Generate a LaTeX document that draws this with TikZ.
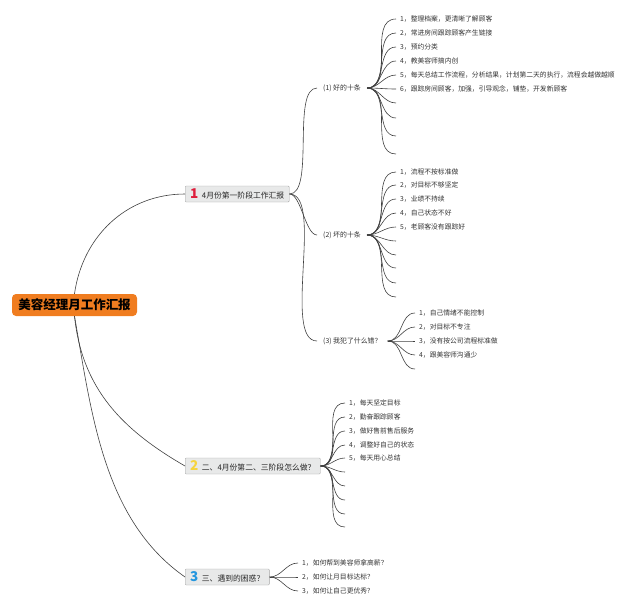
\documentclass[tikz,border=0pt]{standalone}
\usepackage{fontspec}
\setmainfont{Noto Sans CJK SC}

\definecolor{rootorange}{RGB}{240,125,32}
\definecolor{boxgray}{RGB}{232,233,233}
\definecolor{numred}{RGB}{222,30,60}
\definecolor{numyellow}{RGB}{246,212,62}
\definecolor{numblue}{RGB}{36,150,222}
\newcommand{\bignum}[2]{\textcolor{#1}{\fontsize{13.5}{14}\selectfont\bfseries #2}\hspace{3.5pt}}

\begin{document}
\begin{tikzpicture}[x=1pt, y=-1pt,
  root/.style={fill=rootorange, rounded corners=4pt, minimum width=125pt, minimum height=22pt,
    inner sep=2pt, font=\fontsize{12.5}{13}\selectfont\bfseries, text=black},
  topic/.style={draw=black!35, fill=boxgray, rounded corners=1pt, minimum height=16pt,
    inner xsep=5pt, inner ysep=0pt, anchor=west, font=\fontsize{7.8}{8}\selectfont, text=black!85},
  sub/.style={anchor=west, inner xsep=6pt, inner ysep=1pt, font=\fontsize{6.9}{7}\selectfont, text=black!80},
  leaf/.style={anchor=west, inner sep=1pt, font=\fontsize{6.8}{7.5}\selectfont, text=black!80},
  link/.style={draw=black!75, line width=0.6pt},
  fan/.style={link, out=0, in=180}]
\useasboundingbox (0,0) rectangle (640,611);

% Central topic and main branches
\node[root] (root) at (74.5,305) {美容经理月工作汇报};
\node[topic] (stage1) at (185,194) {\bignum{numred}{1}4月份第一阶段工作汇报};
\node[topic] (stage2) at (185,466) {\bignum{numyellow}{2}二、4月份第二、三阶段怎么做？};
\node[topic] (stage3) at (185,577) {\bignum{numblue}{3}三、遇到的困惑？};

\draw[link] (root.north) to[out=82, in=180] (stage1.west);
\draw[link] (root.south) to[out=-84, in=150] (stage2.west);
\draw[link] (root.south) to[out=-80, in=145, looseness=0.9] (stage3.west);

% Sub-topics of stage 1
\node[sub] (good) at (317,88) {(1)\ 好的十条};
\node[sub] (bad) at (317,235) {(2)\ 坏的十条};
\node[sub] (mistake) at (317,341) {(3)\ 我犯了什么错？};
\foreach \s in {good, bad, mistake}
  \draw[link] (stage1.east) to[out=0, in=180, looseness=0.6] (\s.west);

% Leaves: good ten
\foreach \y [count=\i] in {19,33,47,61,75,89,103,118,136,154} {
  \coordinate (good-\i) at (396,\y);
  \draw[fan] (good.east) to (good-\i);
}
\foreach \t [count=\i] in {{1，整理档案，更清晰了解顾客}, {2，常进房间跟踪顾客产生链接}, {3，预约分类},
    {4，教美容师搞内创}, {5，每天总结工作流程，分析结果，计划第二天的执行，流程会越做越顺},
    {6，跟踪房间顾客，加强，引导观念，铺垫，开发新顾客}}
  \node[leaf] at ([xshift=3pt]good-\i) {\t};

% Leaves: bad ten
\foreach \y [count=\i] in {172,185,199,213,227,241,255,268,283,297} {
  \coordinate (bad-\i) at (396,\y);
  \draw[fan] (bad.east) to (bad-\i);
}
\foreach \t [count=\i] in {{1，流程不按标准做}, {2，对目标不够坚定}, {3，业绩不持续},
    {4，自己状态不好}, {5，老顾客没有跟踪好}}
  \node[leaf] at ([xshift=3pt]bad-\i) {\t};

% Leaves: mistakes
\foreach \y [count=\i] in {313,327,341,355,369} {
  \coordinate (mistake-\i) at (415,\y);
  \draw[fan] (mistake.east) to (mistake-\i);
}
\foreach \t [count=\i] in {{1，自己情绪不能控制}, {2，对目标不专注}, {3，没有按公司流程标准做}, {4，跟美容师沟通少}}
  \node[leaf] at ([xshift=3pt]mistake-\i) {\t};

% Leaves: stage 2
\foreach \y [count=\i] in {403,417,431,445,458,472,486,500,514,527} {
  \coordinate (plan-\i) at (345,\y);
  \draw[fan] (stage2.east) to (plan-\i);
}
\foreach \t [count=\i] in {{1，每天坚定目标}, {2，勤奋跟踪顾客}, {3，做好售前售后服务},
    {4，调整好自己的状态}, {5，每天用心总结}}
  \node[leaf] at ([xshift=3pt]plan-\i) {\t};

% Leaves: stage 3
\foreach \y [count=\i] in {563,577,591} {
  \coordinate (doubt-\i) at (298,\y);
  \draw[fan] (stage3.east) to (doubt-\i);
}
\foreach \t [count=\i] in {{1，如何帮到美容师拿高薪？}, {2，如何让月目标达标？}, {3，如何让自己更优秀?}}
  \node[leaf] at ([xshift=3pt]doubt-\i) {\t};
\end{tikzpicture}
\end{document}
